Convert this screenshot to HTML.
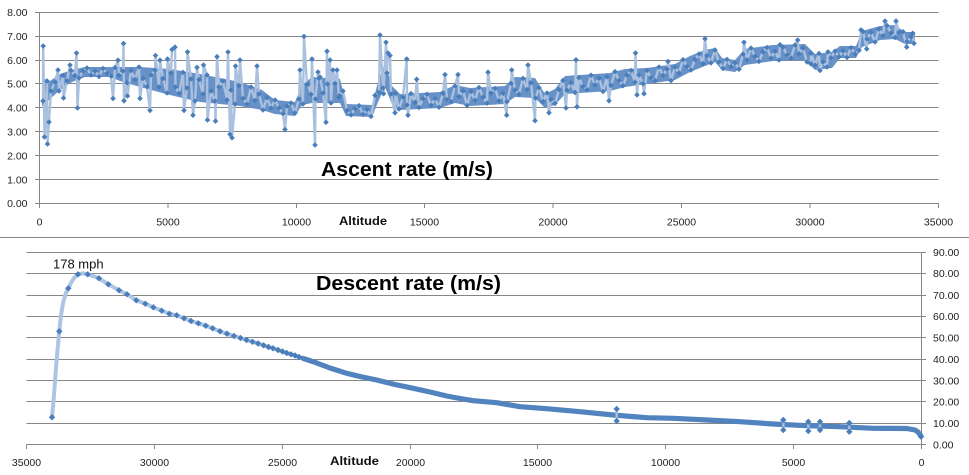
<!DOCTYPE html>
<html>
<head>
<meta charset="utf-8">
<style>
html,body{margin:0;padding:0;background:#fff;}
svg{display:block;}
text{font-family:"Liberation Sans",Arial,sans-serif;}
</style>
</head>
<body>
<svg width="969" height="475" viewBox="0 0 969 475" xmlns="http://www.w3.org/2000/svg">
<defs>
<marker id="dm" viewBox="-4 -4 8 8" markerWidth="8" markerHeight="8" markerUnits="userSpaceOnUse" refX="0" refY="0" overflow="visible">
<path d="M0-3.2L3.2 0 0 3.2-3.2 0z" fill="#4a7ebb"/>
</marker>
<marker id="dm2" viewBox="-4 -4 8 8" markerWidth="8" markerHeight="8" markerUnits="userSpaceOnUse" refX="0" refY="0" overflow="visible">
<path d="M0-2.8L2.8 0 0 2.8-2.8 0z" fill="#4a7ebb"/>
</marker>
</defs>
<rect width="969" height="475" fill="#fff"/>

<!-- ===== TOP CHART ===== -->
<g stroke="#868686" stroke-width="1" fill="none">
<path d="M39.5 12.5H938.5M39.5 36.5H938.5M39.5 60.5H938.5M39.5 83.5H938.5M39.5 107.5H938.5M39.5 131.5H938.5M39.5 155.5H938.5M39.5 179.5H938.5M39.5 203.5H938.5"/>
<path d="M39.5 12.5V203.5M35 12.5H39.5M35 36.5H39.5M35 60.5H39.5M35 83.5H39.5M35 107.5H39.5M35 131.5H39.5M35 155.5H39.5M35 179.5H39.5M35 203.5H39.5"/>
<path d="M39.5 203.5V208M168 203.5V208M296.5 203.5V208M424.5 203.5V208M553 203.5V208M681.5 203.5V208M810 203.5V208M938.5 203.5V208"/>
</g>
<g font-size="10.5" fill="#222" text-anchor="end">
<text x="27.5" y="16">8.00</text>
<text x="27.5" y="40">7.00</text>
<text x="27.5" y="64">6.00</text>
<text x="27.5" y="87.5">5.00</text>
<text x="27.5" y="111.5">4.00</text>
<text x="27.5" y="135.5">3.00</text>
<text x="27.5" y="159.5">2.00</text>
<text x="27.5" y="183.5">1.00</text>
<text x="27.5" y="207">0.00</text>
</g>
<g font-size="10.5" fill="#222" text-anchor="middle">
<text x="39.5" y="225.5">0</text>
<text x="168" y="225.5">5000</text>
<text x="296.5" y="225.5">10000</text>
<text x="424.5" y="225.5">15000</text>
<text x="553" y="225.5">20000</text>
<text x="681.5" y="225.5">25000</text>
<text x="810" y="225.5">30000</text>
<text x="938.5" y="225.5">35000</text>
</g>
<text x="339" y="225" font-size="12" font-weight="bold" fill="#111" textLength="48" lengthAdjust="spacingAndGlyphs">Altitude</text>
<text x="321" y="176" font-size="20" font-weight="bold" fill="#000" textLength="172" lengthAdjust="spacingAndGlyphs">Ascent rate (m/s)</text>

<polygon fill="#6891c7" points="42,78 50,81 60,74 72,70 85,67 110,67 120,67 140,67 170,69 200,74 240,82 262,90 275,100 295,102 302,85 312,77 340,79 346,104 372,105 378,82 385,63 392,86 400,94 440,92 455,85 470,88 505,86 515,77 535,78 545,94 555,89 565,76 610,73 625,69 647,68 675,64 690,56 705,50 715,48 722,58 735,60 745,49 773,45 805,44 815,54 832,52 840,46 856,46 862,31 880,26 895,25 905,32 915,32 915,44 905,44 895,39 880,40 862,47 856,58 840,58 832,68 815,70 805,60 773,61 745,65 735,72 722,70 715,62 705,66 690,72 675,80 647,84 625,87 610,91 565,94 555,105 545,108 535,98 515,97 505,104 470,106 455,103 440,108 400,110 392,104 385,87 378,102 372,117 346,116 340,103 312,103 302,105 295,116 275,114 262,110 240,106 200,102 170,95 140,87 120,81 110,77 85,77 72,82 60,90 50,99 42,106"/>
<polyline fill="none" stroke="#a9c1df" stroke-width="2.4" stroke-linejoin="round" marker-start="url(#dm2)" marker-mid="url(#dm2)" marker-end="url(#dm2)" points="43,101 43.2,46 44.5,137 47,81 47.5,144 49,122 51,91 55,82 58,70 59,91 63,75.5 63.5,98 67,81 70,65 71,70.5 75,75.6 76.5,53 77.5,108 79,78 83,71 87,68 91,75 95,71 99,76.5 103,68.5 107,73.5 111,76 113,98.5 115,67.6 118,60.2 119,75.4 123,71 123.5,43.5 124,100.8 127,83 127.5,96 131,70.6 135,79.6 139,67 140,98.5 143,78.5 147,86.6 150,110.4 151,75 155,70.3 155.5,55.5 159,87 160,60.2 163,78.5 167,93 167.5,59 171,73 172,49.5 175,47.1 175.5,87 179,93.3 183,72.4 184,110.4 187,88 187.5,51.9 191,79 193,115.2 195,101 197,67.4 199,79.6 203,94 203.5,65 207,75 207.5,120 211,91 215,101 215.5,121.1 217,56.7 219,87 223,81 227,100 228,52 230,134.3 231,90 232,137.8 235,104 235.5,66 239,85.6 240,60 243,98.5 247,104 251,87 255,100.6 257,66 259,94 263,110 267,97.7 271,108 275,100 279,108 283,113.6 285,129.5 287,106 291,103 295,113 299,99 300,70 303,104 304,36.4 307,84.5 308,84 311,94.3 312,59 315,145 315.5,99 318,72 319,78.5 320,77 323,93 326,122.3 327,51.2 327.5,84 330,60 331,103 333,70 335,83.5 337,70 339,97.3 339.5,95.8 343,91 347,110.6 351,114.8 355,108.6 359,105.7 363,114.3 367,109.6 371,116.4 375,95.4 379,92.6 380,35 383,88 383.5,93.7 386,42.3 387,73 388,53 390,55.5 391,94 395,112.8 395.5,93.3 399,109 403,97.2 406.7,59 407,105 408,115.2 411,93.6 415,102.3 416.7,79.3 419,107.4 423,98.6 427,94.3 431,105.3 435,98.7 439,107.2 443,93.3 445,74.6 447,99.5 451,101.7 455,86 458,74.6 459,96.6 463,91 467,105.4 471,91.6 475,100.3 479,87.5 483,97.2 487,103.2 488,72.2 491,93 495,88.4 499,100.7 503,93.3 506.7,115.2 507,101.7 511,83.3 511.7,70 515,90 519,94.2 523,78.4 527,89.6 528,65 531,82.8 535,120.7 535.5,98 539,87.7 543,101.4 547,93 549,112.8 551,99.4 555,103.4 559,89.5 563,80.4 566,108 567,90.3 571,82.8 575,92.4 576,59.8 577,106.8 579,77.7 583,86.5 587,89.8 591,75.2 595,84.8 599,78.2 603,91.5 607,76.8 609,100.8 611,85.3 615,71.7 619,80.5 623,85.7 627,75.1 631,70.5 635,82.2 635.5,53 637,94.9 639,75 643,83.7 644,93.7 647,70.4 651,77.8 655,80.5 659,67.1 663,75.3 667,69.1 668,61.5 671,80.6 675,67.2 679,73.1 683,59.7 687,66.4 691,70 695,59.6 699,54 703,63.6 705,38.8 707,55.8 711,62.9 715,50.1 719,62 723,68.4 727,59.4 731,66.6 735,63 739,69.2 743,54.2 744,42.3 747,59.9 751,48.1 755,56.4 759,61.4 763,52 767,47.5 771,58.1 775,51.3 779,60 780,44.7 783,47.1 787,55 791,58 795,45.1 797.7,40 799,53.8 803,48.1 807,62 810.7,63.8 811,53.2 815,65.2 819,53.5 820,70.5 823,61.9 827,67 828,51.9 831,57.7 835,51.2 839,56.8 843,50.8 847,57.4 851,47.8 855,53.8 859,50.4 861,29.9 863,31.5 866.7,49 867,39 871,32.3 875,42 879,29.1 883,35.7 885,21.1 887,25.6 891,33 895,37.6 896,21.1 899,32.4 903,31.8 906.7,47.1 907,41.6 911,36.8 912.7,33.3 914,43.4"/>

<!-- separator -->
<path d="M0 237.5H969" stroke="#868686" stroke-width="1"/>

<!-- ===== BOTTOM CHART ===== -->
<g stroke="#868686" stroke-width="1" fill="none">
<path d="M26.5 252.5H921.5M26.5 273.5H921.5M26.5 295.5H921.5M26.5 316.5H921.5M26.5 337.5H921.5M26.5 359.5H921.5M26.5 380.5H921.5M26.5 401.5H921.5M26.5 423.5H921.5M26.5 444.5H921.5"/>
<path d="M921.5 252.5V444.5M921.5 252.5H926M921.5 273.5H926M921.5 295.5H926M921.5 316.5H926M921.5 337.5H926M921.5 359.5H926M921.5 380.5H926M921.5 401.5H926M921.5 423.5H926M921.5 444.5H926"/>
<path d="M26.5 444.5V449M154.5 444.5V449M282.5 444.5V449M410.5 444.5V449M537.5 444.5V449M665.5 444.5V449M793.5 444.5V449M921.5 444.5V449"/>
</g>
<g font-size="10.5" fill="#222">
<text x="933" y="256">90.00</text>
<text x="933" y="277">80.00</text>
<text x="933" y="299">70.00</text>
<text x="933" y="320">60.00</text>
<text x="933" y="341.5">50.00</text>
<text x="933" y="363">40.00</text>
<text x="933" y="384.5">30.00</text>
<text x="933" y="405.5">20.00</text>
<text x="933" y="427">10.00</text>
<text x="933" y="448.5">0.00</text>
</g>
<g font-size="10.5" fill="#222" text-anchor="middle">
<text x="26.5" y="466">35000</text>
<text x="154.5" y="466">30000</text>
<text x="282.5" y="466">25000</text>
<text x="410.5" y="466">20000</text>
<text x="537.5" y="466">15000</text>
<text x="665.5" y="466">10000</text>
<text x="793.5" y="466">5000</text>
<text x="921.5" y="466">0</text>
</g>
<text x="330" y="465" font-size="12" font-weight="bold" fill="#111" textLength="49" lengthAdjust="spacingAndGlyphs">Altitude</text>
<text x="316" y="290" font-size="20" font-weight="bold" fill="#000" textLength="185" lengthAdjust="spacingAndGlyphs">Descent rate (m/s)</text>
<text x="53" y="268.5" font-size="13" fill="#111">178 mph</text>

<!-- light smooth line -->
<polyline fill="none" stroke="#adc5e4" stroke-width="4" stroke-linejoin="round" stroke-linecap="round" points="52,417.3 54,395 56,368 57.5,350 59.3,331.3 61,315 63.3,302 65.5,294 68.3,288.3 72,281 75,277 78,274.3 83,273.3 87.7,274.3 99,278.3 108.3,284.3 119,290.3 127,294.3 136.3,300.3 145.3,303.7 153.3,307.3 161.7,310.7 169.3,313.7 176.7,315.3 184,318.3 191,321 198.3,323.3 205.7,325.7 212.7,328.3 220,331.3 227,333.7 234,336 240.5,338 246.5,340 252.5,341.8 258,343.5 263.5,345.3 268.5,347 273,348.3 278,350 282.5,351.5 286.7,353 291,354.3 295,355.5 299,357 303,358.3 307,359.7 311,361 315,362.3 319.3,364 330,368 346.7,373.3 360,376.5 376.7,380 395,384.5 413.3,388.3 430,392 446.7,396 460,398.5 473.3,400.7 496.7,402.7 520,406.7 546.7,408.7 580,411.7 613.3,415 646.7,417.7 673.3,418.3 706.7,420 740,421.7 773.3,424 806.7,425.7 840,426.7 873.3,428.3 906.7,428.5 915,430 918,432 921,436"/>
<!-- dense marker band -->
<polyline fill="none" stroke="#5183bf" stroke-width="5.2" stroke-linejoin="round" stroke-linecap="round" points="303,358.3 307,359.7 311,361 315,362.3 319.3,364 330,368 346.7,373.3 360,376.5 376.7,380 395,384.5 413.3,388.3 430,392 446.7,396 460,398.5 473.3,400.7 496.7,402.7 520,406.7 546.7,408.7 580,411.7 613.3,415 646.7,417.7 673.3,418.3 706.7,420 740,421.7 773.3,424 806.7,425.7 840,426.7 873.3,428.3 906.7,428.5 915,430 918,432 921,436"/>
<!-- sparse markers -->
<polyline fill="none" stroke="none" marker-start="url(#dm)" marker-mid="url(#dm)" marker-end="url(#dm)" points="52,417.3 59.3,331.3 68.3,288.3 78,274.3 87.7,274.3 99,278.3 108.3,284.3 119,290.3 127,294.3 136.3,300.3 145.3,303.7 153.3,307.3 161.7,310.7 169.3,313.7 176.7,315.3 184,318.3 191,321 198.3,323.3 205.7,325.7 212.7,328.3 220,331.3 227,333.7 234,336 240.5,338 246.5,340 252.5,341.8 258,343.5 263.5,345.3 268.5,347 273,348.3 278,350 282.5,351.5 286.7,353 291,354.3 295,355.5 299,357 921,436.7"/>
<!-- small spikes -->
<g fill="none" stroke="#a9c1df" stroke-width="2.4" marker-start="url(#dm)" marker-end="url(#dm)">
<polyline points="616.7,409 616.7,421"/>
<polyline points="783.3,420 783.3,430"/>
<polyline points="808.3,421.7 808.3,431"/>
<polyline points="820,421.7 820,430"/>
<polyline points="849.3,423 849.3,431.7"/>
</g>
</svg>
</body>
</html>
